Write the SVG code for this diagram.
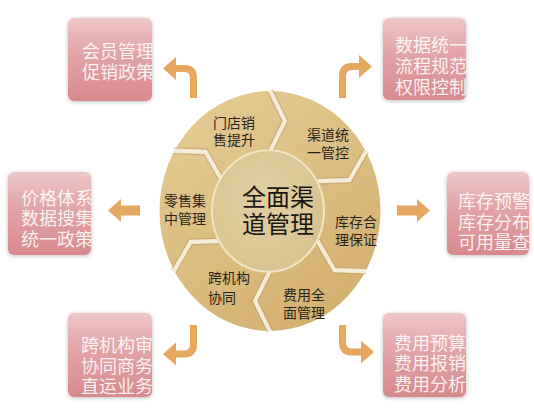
<svg xmlns="http://www.w3.org/2000/svg" xmlns:xlink="http://www.w3.org/1999/xlink" width="534" height="411" viewBox="0 0 534 411">
<defs>
<linearGradient id="boxg" x1="0" y1="0" x2="0" y2="1">
<stop offset="0" stop-color="#eec6c8"/>
<stop offset="0.4" stop-color="#e3a6a9"/>
<stop offset="1" stop-color="#d8898d"/>
</linearGradient>
<linearGradient id="ringg" x1="0.2" y1="0" x2="0.8" y2="1">
<stop offset="0" stop-color="#e4ca93"/>
<stop offset="1" stop-color="#d4af6e"/>
</linearGradient>
<radialGradient id="innerg" cx="0.45" cy="0.4" r="0.6">
<stop offset="0" stop-color="#e2cfa3"/>
<stop offset="1" stop-color="#d9c28f"/>
</radialGradient>
<filter id="soft" x="-20%" y="-20%" width="140%" height="140%">
<feGaussianBlur in="SourceAlpha" stdDeviation="2"/>
<feOffset dx="0" dy="1" result="b"/>
<feComponentTransfer><feFuncA type="linear" slope="0.25"/></feComponentTransfer>
<feMerge><feMergeNode/><feMergeNode in="SourceGraphic"/></feMerge>
</filter>
<marker id="head" markerUnits="userSpaceOnUse" markerWidth="14" markerHeight="24" refX="0" refY="11.5" orient="auto">
<path d="M0,0 L13,11.5 L0,23 z" fill="#e6a760"/>
</marker>
<path id="sep" d="M0,-55 L15,-83 L0,-111"/>
<clipPath id="c1"><rect x="68" y="18" width="84" height="83" rx="6"/></clipPath>
<clipPath id="c2"><rect x="383" y="18" width="83" height="82" rx="6"/></clipPath>
<clipPath id="c3"><rect x="8" y="172" width="83" height="83" rx="6"/></clipPath>
<clipPath id="c4"><rect x="447" y="172" width="82" height="83" rx="6"/></clipPath>
<clipPath id="c5"><rect x="68" y="313" width="84" height="84" rx="6"/></clipPath>
<clipPath id="c6"><rect x="383" y="313" width="83" height="84" rx="6"/></clipPath>
</defs>
<style>
.box{fill:url(#boxg);filter:url(#soft);}
.bt{font-family:"Liberation Sans","Noto Sans CJK SC",sans-serif;font-size:18px;fill:#ffffff;fill-opacity:0.88;}
.lbl{font-family:"Liberation Sans","Noto Sans CJK SC",sans-serif;font-size:14px;fill:#2a2418;}
.ctr{font-family:"Liberation Sans","Noto Sans CJK SC",sans-serif;font-size:24px;fill:#1a1712;}
.arr{fill:none;stroke:#e6a760;stroke-width:7;stroke-linecap:butt;stroke-linejoin:round;marker-end:url(#head);}
.arrw{stroke-width:10;}
.sepS{fill:none;stroke:#b8965a;stroke-opacity:0.45;stroke-width:6.5;stroke-linejoin:miter;}
.sepL{fill:none;stroke:#f4ecd9;stroke-width:4;stroke-linejoin:miter;}
</style>
<rect width="534" height="411" fill="#ffffff"/>

<g id="center-wheel">
<g transform="translate(270,211) scale(1,1.085)">
<circle r="110.5" fill="url(#ringg)"/>
<g class="sepS">
<use xlink:href="#sep"/>
<use xlink:href="#sep" transform="rotate(60)"/>
<use xlink:href="#sep" transform="rotate(120)"/>
<use xlink:href="#sep" transform="rotate(180)"/>
<use xlink:href="#sep" transform="rotate(240)"/>
<use xlink:href="#sep" transform="rotate(300)"/>
</g>
<g class="sepL">
<use xlink:href="#sep"/>
<use xlink:href="#sep" transform="rotate(60)"/>
<use xlink:href="#sep" transform="rotate(120)"/>
<use xlink:href="#sep" transform="rotate(180)"/>
<use xlink:href="#sep" transform="rotate(240)"/>
<use xlink:href="#sep" transform="rotate(300)"/>
</g>
<circle cx="-2" r="56" fill="url(#innerg)" stroke="#f1e4c3" stroke-width="2"/>
</g>
</g>

<g id="hub">
<text class="ctr" x="242" y="205.5">全面渠<tspan x="242" dy="27">道管理</tspan></text>
</g>

<g id="seg-store"><text class="lbl" x="213" y="128">门店销<tspan x="213" dy="17">售提升</tspan></text></g>
<g id="seg-channel"><text class="lbl" x="307" y="140">渠道统<tspan x="307" dy="18">一管控</tspan></text></g>
<g id="seg-stock"><text class="lbl" x="335" y="227">库存合<tspan x="335" dy="18">理保证</tspan></text></g>
<g id="seg-cost"><text class="lbl" x="283" y="300">费用全<tspan x="283" dy="18">面管理</tspan></text></g>
<g id="seg-cross"><text class="lbl" x="208" y="283">跨机构<tspan x="208" dy="20">协同</tspan></text></g>
<g id="seg-retail"><text class="lbl" x="164" y="206">零售集<tspan x="164" dy="18">中管理</tspan></text></g>

<g id="box-member">
<rect class="box" x="68" y="18" width="84" height="83" rx="6"/>
<g clip-path="url(#c1)"><text class="bt" x="82" y="58">会员管理<tspan x="82" dy="20.5">促销政策</tspan></text></g>
</g>
<g id="box-data">
<rect class="box" x="383" y="18" width="83" height="82" rx="6"/>
<g clip-path="url(#c2)"><text class="bt" x="395" y="51.5">数据统一<tspan x="395" dy="21">流程规范</tspan><tspan x="395" dy="21">权限控制</tspan></text></g>
</g>
<g id="box-price">
<rect class="box" x="8" y="172" width="83" height="83" rx="6"/>
<g clip-path="url(#c3)"><text class="bt" x="21" y="204.5">价格体系<tspan x="21" dy="20.5">数据搜集</tspan><tspan x="21" dy="20.5">统一政策</tspan></text></g>
</g>
<g id="box-stock">
<rect class="box" x="447" y="172" width="82" height="83" rx="6"/>
<g clip-path="url(#c4)"><text class="bt" x="458" y="208">库存预警<tspan x="458" dy="20.5">库存分布</tspan><tspan x="458" dy="20.5">可用量查</tspan></text></g>
</g>
<g id="box-cross">
<rect class="box" x="68" y="313" width="84" height="84" rx="6"/>
<g clip-path="url(#c5)"><text class="bt" x="81" y="352">跨机构审<tspan x="81" dy="20.5">协同商务</tspan><tspan x="81" dy="20.5">直运业务</tspan></text></g>
</g>
<g id="box-cost">
<rect class="box" x="383" y="313" width="83" height="84" rx="6"/>
<g clip-path="url(#c6)"><text class="bt" x="394" y="349.5">费用预算<tspan x="394" dy="20.5">费用报销</tspan><tspan x="394" dy="20.5">费用分析</tspan></text></g>
</g>

<g id="connectors">
<path class="arr" d="M193.5,98 V78 Q193.5,68.5 184,68.5 H176"/>
<path class="arr" d="M342.5,98 V76 Q342.5,66.5 352,66.5 H359"/>
<path class="arr arrw" d="M140,210.5 H121"/>
<path class="arr arrw" d="M397,210.5 H417"/>
<path class="arr" d="M193.5,325 V344.5 Q193.5,354 184,354 H176"/>
<path class="arr" d="M342.5,325 V342.5 Q342.5,352 352,352 H361"/>
</g>
</svg>
